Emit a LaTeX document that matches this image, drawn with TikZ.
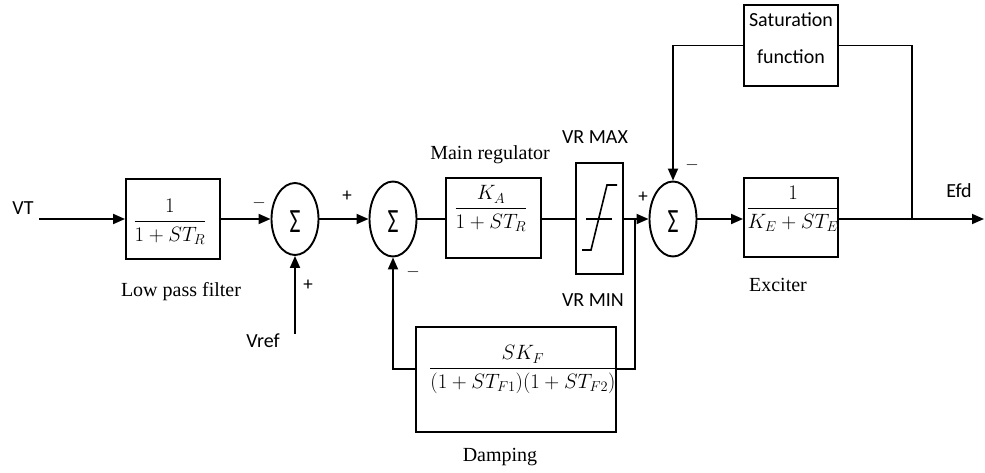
\documentclass[tikz,border=0pt]{standalone}
\usepackage{amsmath}
\usepackage{fontspec}
\setmainfont{Liberation Serif}
\newfontfamily\carl{Carlito}
\usetikzlibrary{arrows.meta,shapes.geometric}
\newcommand{\sig}{\raisebox{-3pt}[\height][\depth]{\scalebox{0.7}[1]{Σ}}}
\newcommand{\mns}{{\fontsize{16}{16}\selectfont$-$}}
\begin{document}
\begin{tikzpicture}[x=1pt,y=-1pt, line width=1.8pt,
  >={Triangle[length=12pt,width=10pt]},
  blk/.style={draw, inner sep=0pt, line width=1.9pt},
  sumn/.style={draw, ellipse, inner sep=0pt, minimum width=47pt, minimum height=75pt, line width=1.9pt, font=\carl\fontsize{34}{34}\selectfont},
  lbl/.style={font=\fontsize{20}{24}\selectfont, inner sep=0pt},
  slbl/.style={font=\carl\fontsize{20}{24}\selectfont, inner sep=0pt},
  sgn/.style={font=\carl\fontsize{19}{19}\selectfont, inner sep=0pt},
  fr/.style={anchor=base, font=\fontsize{21}{24}\selectfont, inner sep=0pt}]
\useasboundingbox (0,0) rectangle (985,473);

% input
\node[slbl] (vt) at (23,208) {VT};
\coordinate (vtin) at (39,219);

% low pass filter
\node[blk, minimum width=94pt, minimum height=80pt] (lpf) at (173,219) {};
\node[fr] (lpff) at (170,227) {$\dfrac{1}{1+ST_R}$};
\node[lbl] (lpfl) at (181,292) {Low pass filter};

% sum 1
\node[sumn, minimum height=72pt] (s1) at (295,219) {\sig};
\node[sgn] (s1a) at (259,203) {\mns};
\node[sgn] (s1b) at (308,285) {+};
\coordinate (vrefin) at (295,334);
\node[slbl] (vref) at (263,341) {Vref};

% sum 2
\node[sumn] (s2) at (393,219) {\sig};
\node[sgn] (s2a) at (347,196) {+};
\node[sgn] (s2b) at (413,272) {\mns};

% main regulator
\node[blk, minimum width=95pt, minimum height=80pt] (mr) at (493.5,218) {};
\node[fr] (mrf) at (491,214) {$\dfrac{K_A}{1+ST_R}$};
\node[lbl] (mrl) at (490,155) {Main regulator};

% limiter
\node[blk, minimum width=47pt, minimum height=111pt] (lim) at (599.5,218.5) {};
\draw[line width=1.6pt] (586,219) -- (612,219);
\draw[line width=1.6pt] (582,250) -- (591,250) -- (607,185) -- (617,185);
\node[slbl] (vrmax) at (595,137) {VR MAX};
\node[slbl] (vrmin) at (593,300) {VR MIN};
\coordinate (tap1) at (635,219);

% sum 3
\node[sumn] (s3) at (673,219) {\sig};
\node[sgn] (s3a) at (643,197) {+};
\node[sgn] (s3b) at (692,165) {\mns};

% exciter
\node[blk, minimum width=94pt, minimum height=79pt] (ex) at (791,217.5) {};
\node[fr] (exf) at (793,214) {$\dfrac{1}{K_E+ST_E}$};
\node[lbl] (exl) at (778,285) {Exciter};

% saturation
\node[blk, minimum width=94pt, minimum height=81pt] (sat) at (791,45.5) {};
\node[slbl] (sat1) at (791,20) {Saturation};
\node[slbl] (sat2) at (791,57) {function};
\coordinate (tap2) at (912,219);
\coordinate (out) at (984,219);
\node[slbl] (efd) at (959,191) {Efd};

% damping
\node[blk, minimum width=200pt, minimum height=105pt] (damp) at (516,379.5) {};
\node[fr] (dampf) at (523,374) {$\dfrac{SK_F}{(1+ST_{F1})(1+ST_{F2})}$};
\node[lbl] (dampl) at (500,457) {Damping};
\coordinate (fbR) at (635,369);

% connectors
\draw[->] (vtin) -- (lpf.west);
\draw[->] (lpf.east) -- (s1.west);
\draw[->] (vrefin) -- (s1.south);
\draw[->] (s1.east) -- (s2.west);
\draw (s2.east) -- (mr.west |- s2.east);
\draw (mr.east |- s2.east) -- (lim.west |- s2.east);
\draw[->] (lim.east |- s3.west) -- (s3.west);
\draw[->] (s3.east) -- (ex.west |- s3.east);
\draw[->] (ex.east |- s3.east) -- (out);
\draw (tap2) |- (sat.east);
\draw[->] (sat.west) -| (s3.north);
\draw (tap1) -- (fbR) -- (damp.east |- fbR);
\draw[->] (damp.west |- fbR) -| (s2.south);
\end{tikzpicture}
\end{document}
